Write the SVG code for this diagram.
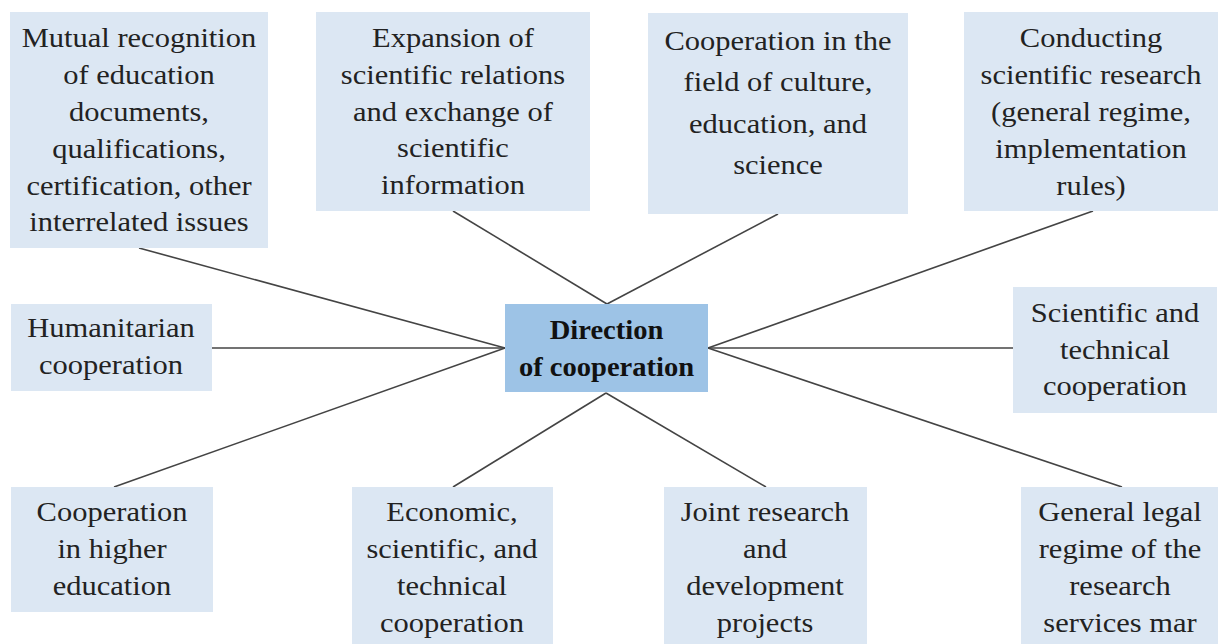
<svg xmlns="http://www.w3.org/2000/svg" width="1218" height="644" viewBox="0 0 1218 644">
<style>
.box{fill:#dce7f3;}
.ctr{fill:#9dc3e6;}
.t{font-family:"Liberation Serif","Times New Roman",serif;font-size:27px;fill:#222;text-anchor:middle;}
.b{font-family:"Liberation Serif","Times New Roman",serif;font-size:28px;font-weight:bold;fill:#111;text-anchor:middle;}
.c{stroke:#444;stroke-width:1.6;fill:none;}
</style>
<rect width="1218" height="644" fill="#ffffff"/>
<g id="connectors">
<line class="c" x1="139" y1="248" x2="505" y2="348"/>
<line class="c" x1="453" y1="211" x2="607" y2="304"/>
<line class="c" x1="778" y1="214" x2="607" y2="304"/>
<line class="c" x1="1093" y1="211" x2="708" y2="348"/>
<line class="c" x1="212" y1="348" x2="505" y2="348"/>
<line class="c" x1="1013" y1="348" x2="708" y2="348"/>
<line class="c" x1="114" y1="487" x2="505" y2="348"/>
<line class="c" x1="453" y1="487" x2="606" y2="393"/>
<line class="c" x1="766" y1="487" x2="606" y2="393"/>
<line class="c" x1="1122" y1="487" x2="708" y2="348"/>
</g>
<g id="n-mutual">
<rect class="box" x="10" y="12" width="258" height="236"/>
<text class="t" transform="translate(139,0) scale(1.13,1)"><tspan x="0" y="47">Mutual recognition</tspan><tspan x="0" y="84">of education</tspan><tspan x="0" y="121">documents,</tspan><tspan x="0" y="158">qualifications,</tspan><tspan x="0" y="195">certification, other</tspan><tspan x="0" y="231">interrelated issues</tspan></text>
</g>
<g id="n-expansion">
<rect class="box" x="316" y="12" width="274" height="199"/>
<text class="t" transform="translate(453,0) scale(1.13,1)"><tspan x="0" y="47">Expansion of</tspan><tspan x="0" y="84">scientific relations</tspan><tspan x="0" y="121">and exchange of</tspan><tspan x="0" y="157">scientific</tspan><tspan x="0" y="194">information</tspan></text>
</g>
<g id="n-culture">
<rect class="box" x="648" y="13" width="260" height="201"/>
<text class="t" transform="translate(778,0) scale(1.13,1)"><tspan x="0" y="50">Cooperation in the</tspan><tspan x="0" y="91.5">field of culture,</tspan><tspan x="0" y="133">education, and</tspan><tspan x="0" y="174.5">science</tspan></text>
</g>
<g id="n-conducting">
<rect class="box" x="964" y="12" width="254" height="199"/>
<text class="t" transform="translate(1091,0) scale(1.13,1)"><tspan x="0" y="47">Conducting</tspan><tspan x="0" y="84">scientific research</tspan><tspan x="0" y="121">(general regime,</tspan><tspan x="0" y="158">implementation</tspan><tspan x="0" y="195">rules)</tspan></text>
</g>
<g id="n-humanitarian">
<rect class="box" x="11" y="304" width="201" height="87"/>
<text class="t" transform="translate(111,0) scale(1.13,1)"><tspan x="0" y="337">Humanitarian</tspan><tspan x="0" y="374">cooperation</tspan></text>
</g>
<g id="n-center">
<rect class="ctr" x="505" y="304" width="203" height="88"/>
<text class="b" transform="translate(606.5,0) scale(1.02,1)"><tspan x="0" y="339">Direction</tspan><tspan x="0" y="376">of cooperation</tspan></text>
</g>
<g id="n-scitech">
<rect class="box" x="1013" y="287" width="204" height="126"/>
<text class="t" transform="translate(1115,0) scale(1.13,1)"><tspan x="0" y="322">Scientific and</tspan><tspan x="0" y="359">technical</tspan><tspan x="0" y="395">cooperation</tspan></text>
</g>
<g id="n-higher">
<rect class="box" x="11" y="487" width="202" height="125"/>
<text class="t" transform="translate(112,0) scale(1.13,1)"><tspan x="0" y="521">Cooperation</tspan><tspan x="0" y="558">in higher</tspan><tspan x="0" y="595">education</tspan></text>
</g>
<g id="n-economic">
<rect class="box" x="352" y="487" width="201" height="160"/>
<text class="t" transform="translate(452,0) scale(1.13,1)"><tspan x="0" y="521">Economic,</tspan><tspan x="0" y="558">scientific, and</tspan><tspan x="0" y="595">technical</tspan><tspan x="0" y="632">cooperation</tspan></text>
</g>
<g id="n-joint">
<rect class="box" x="664" y="487" width="203" height="160"/>
<text class="t" transform="translate(765,0) scale(1.13,1)"><tspan x="0" y="521">Joint research</tspan><tspan x="0" y="558">and</tspan><tspan x="0" y="595">development</tspan><tspan x="0" y="632">projects</tspan></text>
</g>
<g id="n-legal">
<rect class="box" x="1021" y="487" width="197" height="160"/>
<text class="t" transform="translate(1120,0) scale(1.13,1)"><tspan x="0" y="521">General legal</tspan><tspan x="0" y="558">regime of the</tspan><tspan x="0" y="595">research</tspan><tspan x="0" y="632">services mar</tspan></text>
</g>
</svg>
